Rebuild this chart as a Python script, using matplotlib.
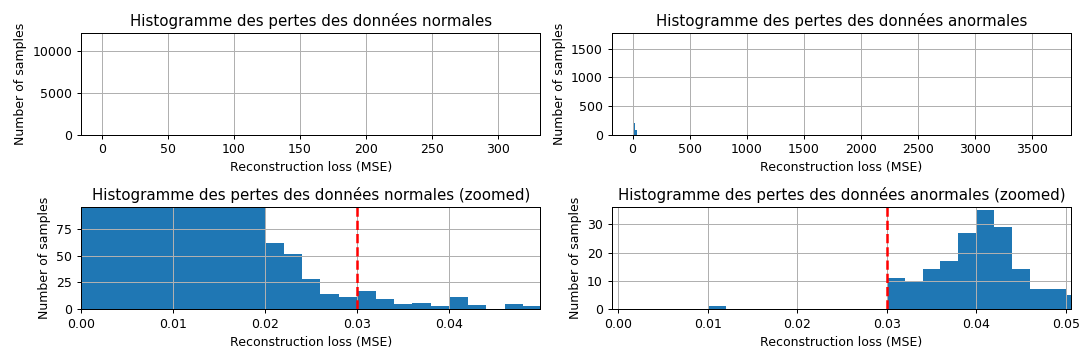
import numpy as np
import matplotlib
matplotlib.use("Agg")
from matplotlib import pyplot as plt

# histogram bins are 0.002 wide
bin_width = 0.002
threshold = 0.03

# normal data: counts per bin from 0.000 to 0.050
normal_counts = [1850, 6400, 11600, 9800, 6100, 3300, 1650, 780, 360, 118,
                 62, 51, 28, 14, 11, 17, 9, 5, 6, 3, 11, 4, 0, 5, 3]
normal_max_loss = 316.4

# anomalous data: counts per bin from 0.000 to 0.052
anomal_counts = [0, 0, 0, 0, 0, 1, 0, 0, 0, 0, 0, 0, 0, 0, 0,
                 11, 10, 14, 17, 27, 35, 29, 14, 7, 7, 5]
# far tail of the anomalous losses (grouped, as seen on the full plot)
anomal_tail_loss = [15.0, 19.0]
anomal_tail_width = [3.0, 24.0]
anomal_tail_counts = [210, 85]
anomal_max_loss = 3657.0
anomal_max_count = 1692

normal_edges = np.arange(len(normal_counts)) * bin_width
anomal_edges = np.arange(len(anomal_counts)) * bin_width
normal_top = max(normal_counts)

fig, axs = plt.subplots(2, 2, figsize=(1085 / 90, 362 / 90), dpi=90)
fig.subplots_adjust(left=0.0747, right=0.9871, top=0.9088, bottom=0.1464,
                    wspace=0.155, hspace=0.715)

# full normal
ax = axs[0, 0]
ax.bar(normal_edges, normal_counts, width=bin_width, align="edge", color="C0")
ax.set_xlim(-0.05 * normal_max_loss, 1.05 * normal_max_loss)
ax.set_ylim(0, 1.05 * normal_top)
ax.set_title("Histogramme des pertes des données normales")
ax.set_xlabel("Reconstruction loss (MSE)")
ax.set_ylabel("Number of samples")
ax.grid(True)

# full anomalous
ax = axs[0, 1]
ax.bar(anomal_edges, anomal_counts, width=bin_width, align="edge", color="C0")
ax.bar(anomal_tail_loss, anomal_tail_counts, width=anomal_tail_width, align="edge", color="C0")
ax.set_xlim(-0.05 * anomal_max_loss, 1.05 * anomal_max_loss)
ax.set_ylim(0, 1.05 * anomal_max_count)
ax.set_title("Histogramme des pertes des données anormales")
ax.set_xlabel("Reconstruction loss (MSE)")
ax.set_ylabel("Number of samples")
ax.grid(True)

# zoomed normal
ax = axs[1, 0]
ax.bar(normal_edges, normal_counts, width=bin_width, align="edge", color="C0")
ax.axvline(threshold, color="r", linestyle="--", linewidth=2)
ax.set_xlim(0, 0.0499)
ax.set_ylim(0, 95)
ax.set_title("Histogramme des pertes des données normales (zoomed)")
ax.set_xlabel("Reconstruction loss (MSE)")
ax.set_ylabel("Number of samples")
ax.grid(True)

# zoomed anomalous
ax = axs[1, 1]
ax.bar(anomal_edges, anomal_counts, width=bin_width, align="edge", color="C0")
ax.axvline(threshold, color="r", linestyle="--", linewidth=2)
ax.set_xlim(-0.00075, 0.0506)
ax.set_ylim(0, 36)
ax.set_title("Histogramme des pertes des données anormales (zoomed)")
ax.set_xlabel("Reconstruction loss (MSE)")
ax.set_ylabel("Number of samples")
ax.grid(True)

plt.savefig("out.png")
